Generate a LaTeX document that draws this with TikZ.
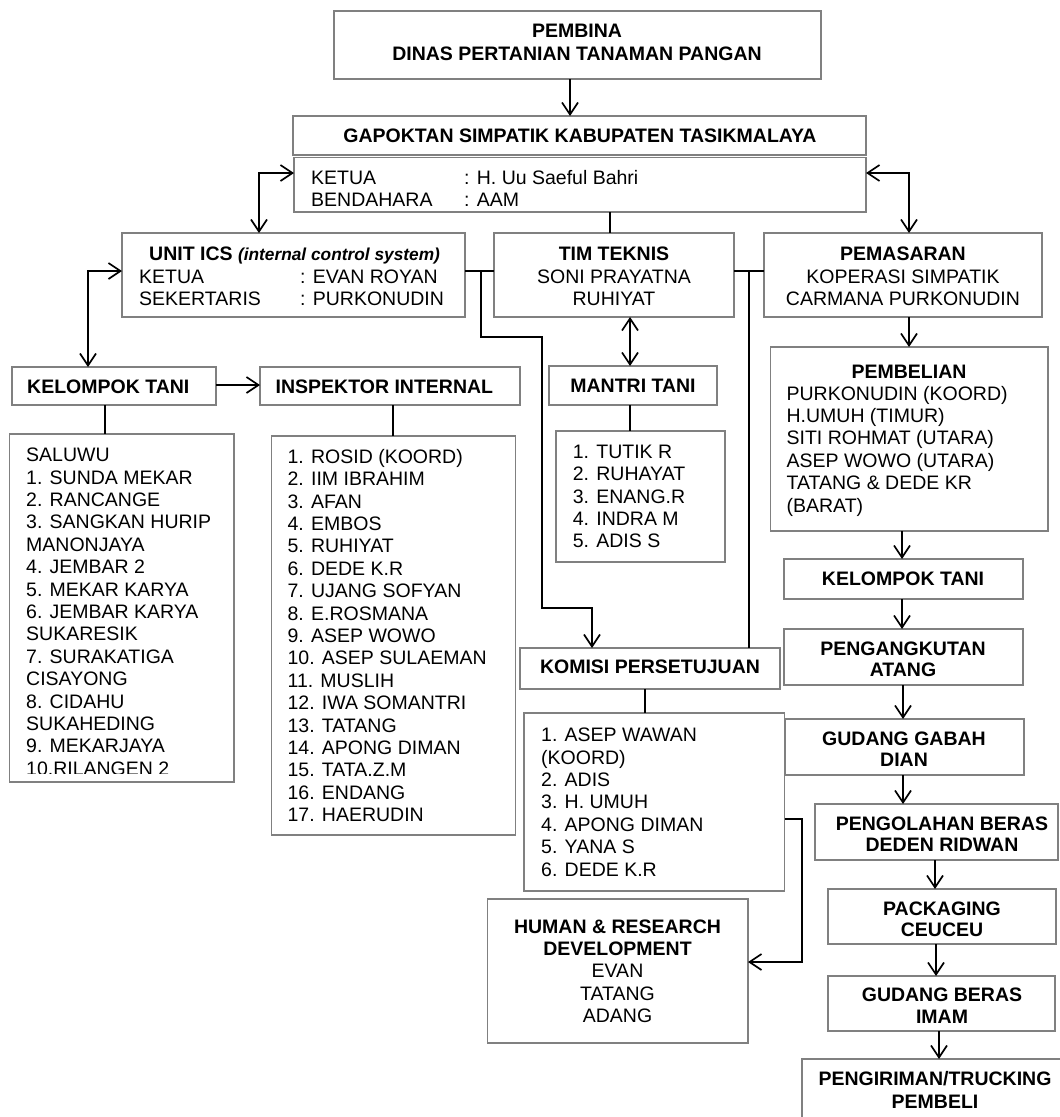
\documentclass[tikz,border=0pt]{standalone}
\usepackage{fontspec}
\setmainfont{Liberation Sans}
\usetikzlibrary{arrows.meta}
\newcommand\fs{\fontsize{19.5}{22.4}\selectfont}
\newcommand\bxx[5]{\node[bx, minimum width={#4-#2}, minimum height={#5-#3}] (#1) at (#2,#3) {};}
\tikzset{
  bx/.style={draw=black!50, line width=1.1pt, inner sep=0pt, outer sep=0pt, anchor=north west},
  tl/.style={anchor=base west, inner sep=0pt, font=\fs},
  tc/.style={anchor=base, inner sep=0pt, font=\fs},
  tb/.style={anchor=base, inner sep=0pt, font=\fs\bfseries},
  tbl/.style={anchor=base west, inner sep=0pt, font=\fs\bfseries},
  ln/.style={line width=1.7pt, draw=black},
  tip/.tip={Straight Barb[length=12pt,width=16pt]},
  arr/.style={ln, -tip},
  darr/.style={ln, tip-tip},
}
\begin{document}
\begin{tikzpicture}[x=1pt,y=-1pt]
\useasboundingbox (0,0) rectangle (1060,1117);
% ---------- boxes ----------
\bxx{pemb}{334}{11}{821}{79}
\bxx{gap}{293}{116}{866}{155}
\bxx{ket}{294}{157.5}{866}{212}
\bxx{uic}{122}{233}{465}{317}
\bxx{tim}{494}{233}{734}{317}
\bxx{pem}{764}{233}{1042}{317}
\bxx{kt}{12}{367}{216}{405}
\bxx{ins}{260}{367}{520}{405}
\bxx{man}{549}{366}{717}{405}
\bxx{ktl}{9.5}{434}{234}{782}
\bxx{insl}{271.5}{436}{515.5}{835}
\bxx{manl}{556}{431}{725}{562}
\bxx{kom}{520}{648}{780}{689}
\bxx{koml}{524}{713}{784.5}{891}
\bxx{hum}{487.5}{899}{748}{1043}
\bxx{beli}{770.5}{347}{1048}{531}
\bxx{kt2}{784}{559}{1023}{599}
\bxx{ang}{784}{629}{1023}{685}
\bxx{gab}{785}{719}{1024}{775}
\bxx{olah}{815}{804}{1058}{860}
\bxx{pack}{828}{889}{1056}{944}
\bxx{ber}{828}{976}{1055}{1031}
\bxx{kirim}{802}{1059}{1075}{1135}
% ---------- texts ----------
\node[tb] (t1) at (577,37) {PEMBINA};
\node[tb] (t2) at (577,60) {DINAS PERTANIAN TANAMAN PANGAN};
\node[tb] (t3) at (580,142) {GAPOKTAN SIMPATIK KABUPATEN TASIKMALAYA};
\node[tl] (t4) at (311,184.5) {KETUA};
\node[tl] (t5) at (464,184.5) {: H. Uu Saeful Bahri};
\node[tl] (t6) at (311,206) {BENDAHARA};
\node[tl] (t7) at (464,206) {: AAM};
\node[tbl] (t8) at (149,260) {UNIT ICS {\fontsize{17.3}{20}\selectfont\itshape (internal control system)}};
\node[tl] (t9) at (139,283) {KETUA};
\node[tl] (t10) at (300,283) {: EVAN ROYAN};
\node[tl] (t11) at (139,305) {SEKERTARIS};
\node[tl] (t12) at (300,305) {: PURKONUDIN};
\node[tb] (t13) at (614,260) {TIM TEKNIS};
\node[tc] (t14) at (614,283) {SONI PRAYATNA};
\node[tc] (t15) at (614,305) {RUHIYAT};
\node[tb] (t16) at (903,260) {PEMASARAN};
\node[tc] (t17) at (903,283) {KOPERASI SIMPATIK};
\node[tc] (t18) at (903,305) {CARMANA PURKONUDIN};
\node[tbl] (t19) at (27,393) {KELOMPOK TANI};
\node[tbl] (t20) at (275.5,393) {INSPEKTOR INTERNAL};
\node[tb] (t21) at (633,392) {MANTRI TANI};
\node[tb] (t22) at (650,673) {KOMISI PERSETUJUAN};
\node[tb] (t23) at (617.5,933) {HUMAN \& RESEARCH};
\node[tb] (t24) at (617.5,955.4) {DEVELOPMENT};
\node[tc] (t25) at (617.5,977.8) {EVAN};
\node[tc] (t26) at (617.5,1000.2) {TATANG};
\node[tc] (t27) at (617.5,1022.6) {ADANG};
\node[tb] (t28) at (909,378.3) {PEMBELIAN};
\node[tb] (t29) at (903,585) {KELOMPOK TANI};
\node[tb] (t30) at (903,655) {PENGANGKUTAN};
\node[tb] (t31) at (903,676.7) {ATANG};
\node[tb] (t32) at (904,745) {GUDANG GABAH};
\node[tb] (t33) at (904,766.5) {DIAN};
\node[tb] (t34) at (942,830) {PENGOLAHAN BERAS};
\node[tb] (t35) at (942,851.7) {DEDEN RIDWAN};
\node[tb] (t36) at (942,915) {PACKAGING};
\node[tb] (t37) at (942,936.7) {CEUCEU};
\node[tb] (t38) at (942,1001.7) {GUDANG BERAS};
\node[tb] (t39) at (942,1023.3) {IMAM};
\node[tb] (t40) at (935,1085) {PENGIRIMAN/TRUCKING};
\node[tb] (t41) at (935,1108.3) {PEMBELI};
% lists
\begin{scope}
\clip (9.5,434) rectangle (234,773);
\foreach \t [count=\i from 0] in {SALUWU, 1. SUNDA MEKAR, 2. RANCANGE, 3. SANGKAN HURIP, MANONJAYA, 4. JEMBAR 2, 5. MEKAR KARYA, 6. JEMBAR KARYA, SUKARESIK, 7. SURAKATIGA, CISAYONG, 8. CIDAHU, SUKAHEDING, 9. MEKARJAYA, 10.RILANGEN 2}
  \node[tl] (ka\i) at (26,{461.7+22.4*\i}) {\t};
\end{scope}
\foreach \t [count=\i from 0] in {1. ROSID (KOORD), 2. IIM IBRAHIM, 3. AFAN, 4. EMBOS, 5. RUHIYAT, 6. DEDE K.R, 7. UJANG SOFYAN, 8. E.ROSMANA, 9. ASEP WOWO, 10. ASEP SULAEMAN, 11. MUSLIH, 12. IWA SOMANTRI, 13. TATANG, 14. APONG DIMAN, 15. TATA.Z.M, 16. ENDANG, 17. HAERUDIN}
  \node[tl] (ia\i) at (287.4,{463.3+22.4*\i}) {\t};
\foreach \t [count=\i from 0] in {1. TUTIK R, 2. RUHAYAT, 3. ENANG.R, 4. INDRA M, 5. ADIS S}
  \node[tl] (ma\i) at (572.7,{458.3+22.4*\i}) {\t};
\foreach \t [count=\i from 0] in {1. ASEP WAWAN, (KOORD), 2. ADIS, 3. H. UMUH, 4. APONG DIMAN, 5. YANA S, 6. DEDE K.R}
  \node[tl] (ko\i) at (541,{741.7+22.4*\i}) {\t};
\foreach \t [count=\i from 0] in {PURKONUDIN (KOORD), H.UMUH (TIMUR), SITI ROHMAT (UTARA), ASEP WOWO (UTARA), TATANG \& DEDE KR, (BARAT)}
  \node[tl] (be\i) at (786.4,{400+22.4*\i}) {\t};
% ---------- connectors ----------
\coordinate (cA) at (259,173);
\coordinate (cB) at (909,173);
\coordinate (cC) at (88,271);
\coordinate (jA) at (481,271);
\coordinate (jB) at (749,271);
\coordinate (k1) at (481,337);
\coordinate (k2) at (542,337);
\coordinate (k3) at (542,608);
\coordinate (k4) at (592,608);
\coordinate (h1) at (802,819);
\coordinate (h2) at (802,962);
\draw[arr] (570,0 |- pemb.south) -- (570,0 |- gap.north);
\draw[ln] (610,0 |- ket.south) -- (610,0 |- tim.north);
\draw[darr] (259,0 |- uic.north) -- (cA) -- (ket.west |- cA);
\draw[darr] (ket.east |- cB) -- (cB) -- (909,0 |- pem.north);
\draw[ln] (uic.east |- jA) -- (tim.west |- jA);
\draw[ln] (tim.east |- jB) -- (pem.west |- jB);
\draw[arr] (jA) -- (k1) -- (k2) -- (k3) -- (k4) -- (k4 |- kom.north);
\draw[ln] (jB) -- (jB |- kom.north);
\draw[darr] (630,0 |- tim.south) -- (630,0 |- man.north);
\draw[ln] (630,0 |- man.south) -- (630,0 |- manl.north);
\draw[darr] (uic.west |- cC) -- (cC) -- (cC |- kt.north);
\draw[arr] (kt.east |- 0,385) -- (ins.west |- 0,385);
\draw[ln] (105,0 |- kt.south) -- (105,0 |- ktl.north);
\draw[ln] (393,0 |- ins.south) -- (393,0 |- insl.north);
\draw[ln] (645,0 |- kom.south) -- (645,0 |- koml.north);
\draw[arr] (koml.east |- h1) -- (h1) -- (h2) -- (hum.east |- h2);
\draw[arr] (909,0 |- pem.south) -- (909,0 |- beli.north);
\draw[arr] (902,0 |- beli.south) -- (902,0 |- kt2.north);
\draw[arr] (902,0 |- kt2.south) -- (902,0 |- ang.north);
\draw[arr] (903,0 |- ang.south) -- (903,0 |- gab.north);
\draw[arr] (903,0 |- gab.south) -- (903,0 |- olah.north);
\draw[arr] (935,0 |- olah.south) -- (935,0 |- pack.north);
\draw[arr] (936,0 |- pack.south) -- (936,0 |- ber.north);
\draw[arr] (939,0 |- ber.south) -- (939,0 |- kirim.north);
\end{tikzpicture}
\end{document}
